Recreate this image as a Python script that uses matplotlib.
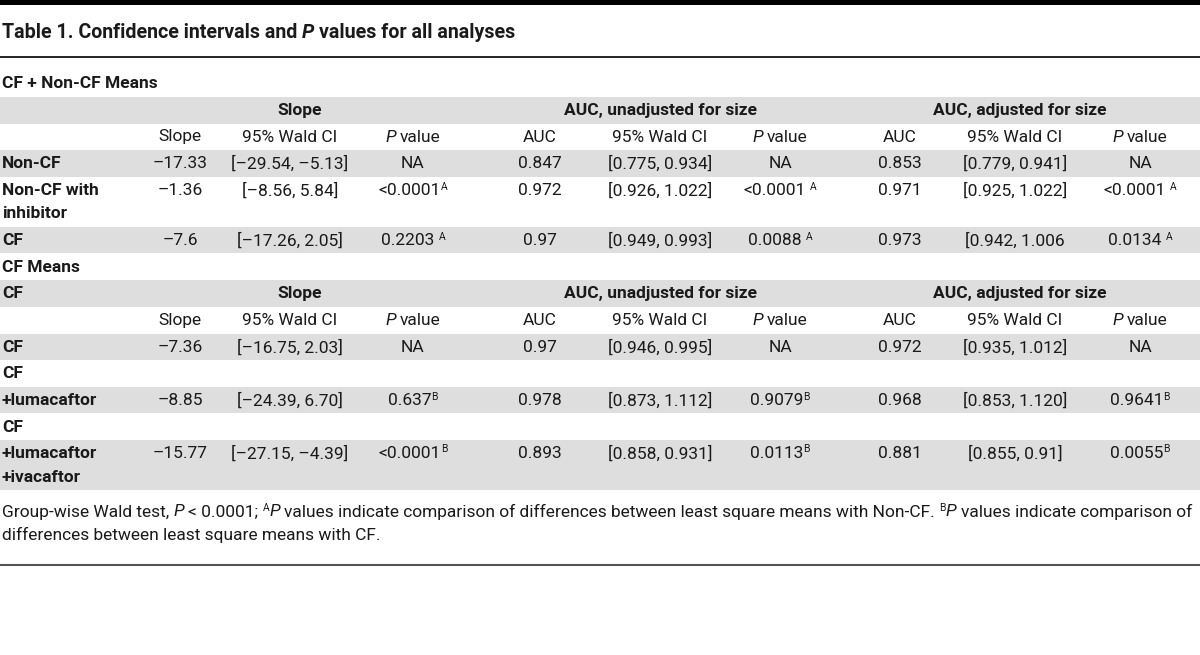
import matplotlib
matplotlib.use("Agg")
import matplotlib.pyplot as plt
from matplotlib.patches import Rectangle

# ---------------- data ----------------
title_main = "Table 1. Confidence intervals and "
title_tail = " values for all analyses"
section1_title = "CF + Non-CF Means"
section2_title = "CF Means"
group_headers = ["Slope", "AUC, unadjusted for size", "AUC, adjusted for size"]
sub_headers = ["Slope", "95% Wald CI", "P value", "AUC", "95% Wald CI", "P value",
               "AUC", "95% Wald CI", "P value"]

labels1 = [["Non-CF"], ["Non-CF with", "inhibitor"], ["CF"]]
slope1 = ["–17.33", "–1.36", "–7.6"]
slope_ci1 = ["[–29.54, –5.13]", "[–8.56, 5.84]", "[–17.26, 2.05]"]
slope_p1 = ["NA", "<0.0001", "0.2203 "]
auc_un1 = ["0.847", "0.972", "0.97"]
auc_un_ci1 = ["[0.775, 0.934]", "[0.926, 1.022]", "[0.949, 0.993]"]
auc_un_p1 = ["NA", "<0.0001 ", "0.0088 "]
auc_adj1 = ["0.853", "0.971", "0.973"]
auc_adj_ci1 = ["[0.779, 0.941]", "[0.925, 1.022]", "[0.942, 1.006"]
auc_adj_p1 = ["NA", "<0.0001 ", "0.0134 "]
sup1 = ["", "A", "A"]

labels2 = [["CF"], ["+lumacaftor"], ["+lumacaftor", "+ivacaftor"]]
prefix2 = [None, "CF", "CF"]
slope2 = ["–7.36", "–8.85", "–15.77"]
slope_ci2 = ["[–16.75, 2.03]", "[–24.39, 6.70]", "[–27.15, –4.39]"]
slope_p2 = ["NA", "0.637", "<0.0001"]
auc_un2 = ["0.97", "0.978", "0.893"]
auc_un_ci2 = ["[0.946, 0.995]", "[0.873, 1.112]", "[0.858, 0.931]"]
auc_un_p2 = ["NA", "0.9079", "0.0113"]
auc_adj2 = ["0.972", "0.968", "0.881"]
auc_adj_ci2 = ["[0.935, 1.012]", "[0.853, 1.120]", "[0.855, 0.91]"]
auc_adj_p2 = ["NA", "0.9641", "0.0055"]
sup2 = ["", "B", "B"]

# ---------------- layout ----------------
FONT = "Roboto"
TXT = "#1a1a1a"
GRAY = "#dedede"
FS = 12.5

col_x = [180, 290, 413, 540, 660, 780, 900, 1015, 1140]
group_x = [300, 660, 1020]

fig = plt.figure(figsize=(12, 6.55), dpi=100)
ax = fig.add_axes([0, 0, 1, 1])
ax.set_xlim(0, 1200)
ax.set_ylim(655, 0)
ax.axis("off")
renderer = fig.canvas.get_renderer()


def space_width(kw):
    a = ax.text(0, 0, "a a", **kw)
    b = ax.text(0, 0, "aa", **kw)
    w = a.get_window_extent(renderer).width - b.get_window_extent(renderer).width
    a.remove()
    b.remove()
    return w


def draw_runs(x, y, runs, ha="center", size=FS, weight="normal", color=TXT):
    objs, widths = [], []
    for txt, kind in runs:
        kw = dict(fontsize=size, fontfamily=FONT, fontweight=weight, color=color,
                  va="center", ha="left")
        dy = 0
        if "i" in kind:
            kw["fontstyle"] = "italic"
        if kind == "sup":
            kw["fontsize"] = size * 0.6
            dy = -4
        lead = len(txt) - len(txt.lstrip(" "))
        trail = len(txt) - len(txt.rstrip(" "))
        core = txt.strip(" ")
        t = ax.text(0, y + dy, core, **kw)
        w = t.get_window_extent(renderer).width
        sw = space_width(kw) if (lead or trail) else 0
        objs.append((t, lead * sw))
        widths.append(w + (lead + trail) * sw)
    total = sum(widths)
    x0 = x - total / 2 if ha == "center" else x
    for (t, lw_), w in zip(objs, widths):
        t.set_x(x0 + lw_)
        x0 += w


def band(y0, y1):
    ax.add_patch(Rectangle((0, y0), 1200, y1 - y0, facecolor=GRAY, edgecolor="none", zorder=0))


def pval_runs(p, sup):
    if sup and p != "NA":
        return [(p, "n"), (sup, "sup")]
    return [(p, "n")]


def header_rows(y_group, y_sub, first_label=None):
    band(y_group - 13.5, y_group + 13.5)
    if first_label:
        draw_runs(2, y_group, [(first_label, "n")], ha="left", weight="bold")
    for gx, g in zip(group_x, group_headers):
        draw_runs(gx, y_group, [(g, "n")], weight="bold")
    for cx, s in zip(col_x, sub_headers):
        if s == "P value":
            draw_runs(cx, y_sub, [("P", "i"), (" value", "n")])
        else:
            draw_runs(cx, y_sub, [(s, "n")])


def data_row(y, vals, sup):
    for k, (cx, v) in enumerate(zip(col_x, vals)):
        if k in (2, 5, 8):
            draw_runs(cx, y, pval_runs(v, sup))
        else:
            draw_runs(cx, y, [(v, "n")])


# top bar and title
ax.add_patch(Rectangle((0, 0), 1200, 5, facecolor="black", edgecolor="none"))
draw_runs(2, 33, [(title_main, "n"), ("P", "i"), (title_tail, "n")], ha="left",
          size=14.1, weight="bold")
ax.plot([0, 1200], [57, 57], color="black", lw=1.2)

# ---- section 1 ----
draw_runs(2, 83, [(section1_title, "n")], ha="left", weight="bold")
header_rows(110, 137)
row_tops1 = [150, 177, 227]
row_bots1 = [177, 227, 253]
for i in range(3):
    if i % 2 == 0:
        band(row_tops1[i], row_bots1[i])
    y = row_tops1[i] + 13.5
    for j, lab in enumerate(labels1[i]):
        draw_runs(2, y + 23.5 * j, [(lab, "n")], ha="left", weight="bold")
    vals = [slope1[i], slope_ci1[i], slope_p1[i], auc_un1[i], auc_un_ci1[i],
            auc_un_p1[i], auc_adj1[i], auc_adj_ci1[i], auc_adj_p1[i]]
    data_row(y, vals, sup1[i])

# ---- section 2 ----
draw_runs(2, 267, [(section2_title, "n")], ha="left", weight="bold")
header_rows(293.5, 320.5, first_label="CF")
data_tops2 = [334, 387, 440]
data_bots2 = [360, 413, 490]
for i in range(3):
    band(data_tops2[i], data_bots2[i])
    y = data_tops2[i] + 13.5
    if prefix2[i]:
        draw_runs(2, y - 26.5, [(prefix2[i], "n")], ha="left", weight="bold")
    for j, lab in enumerate(labels2[i]):
        draw_runs(2, y + 23.5 * j, [(lab, "n")], ha="left", weight="bold")
    vals = [slope2[i], slope_ci2[i], slope_p2[i], auc_un2[i], auc_un_ci2[i],
            auc_un_p2[i], auc_adj2[i], auc_adj_ci2[i], auc_adj_p2[i]]
    data_row(y, vals, sup2[i])

# ---- footnote ----
FN = 12.5
draw_runs(2, 512, [("Group-wise Wald test, ", "n"), ("P", "i"), (" < 0.0001; ", "n"),
                   ("A", "sup"), ("P", "i"),
                   (" values indicate comparison of differences between least square means with Non-CF. ", "n"),
                   ("B", "sup"), ("P", "i"), (" values indicate comparison of", "n")],
          ha="left", size=FN)
draw_runs(2, 535, [("differences between least square means with CF.", "n")], ha="left", size=FN)
ax.plot([0, 1200], [565, 565], color="#555555", lw=1.5)

fig.savefig("out.png", dpi=100)
